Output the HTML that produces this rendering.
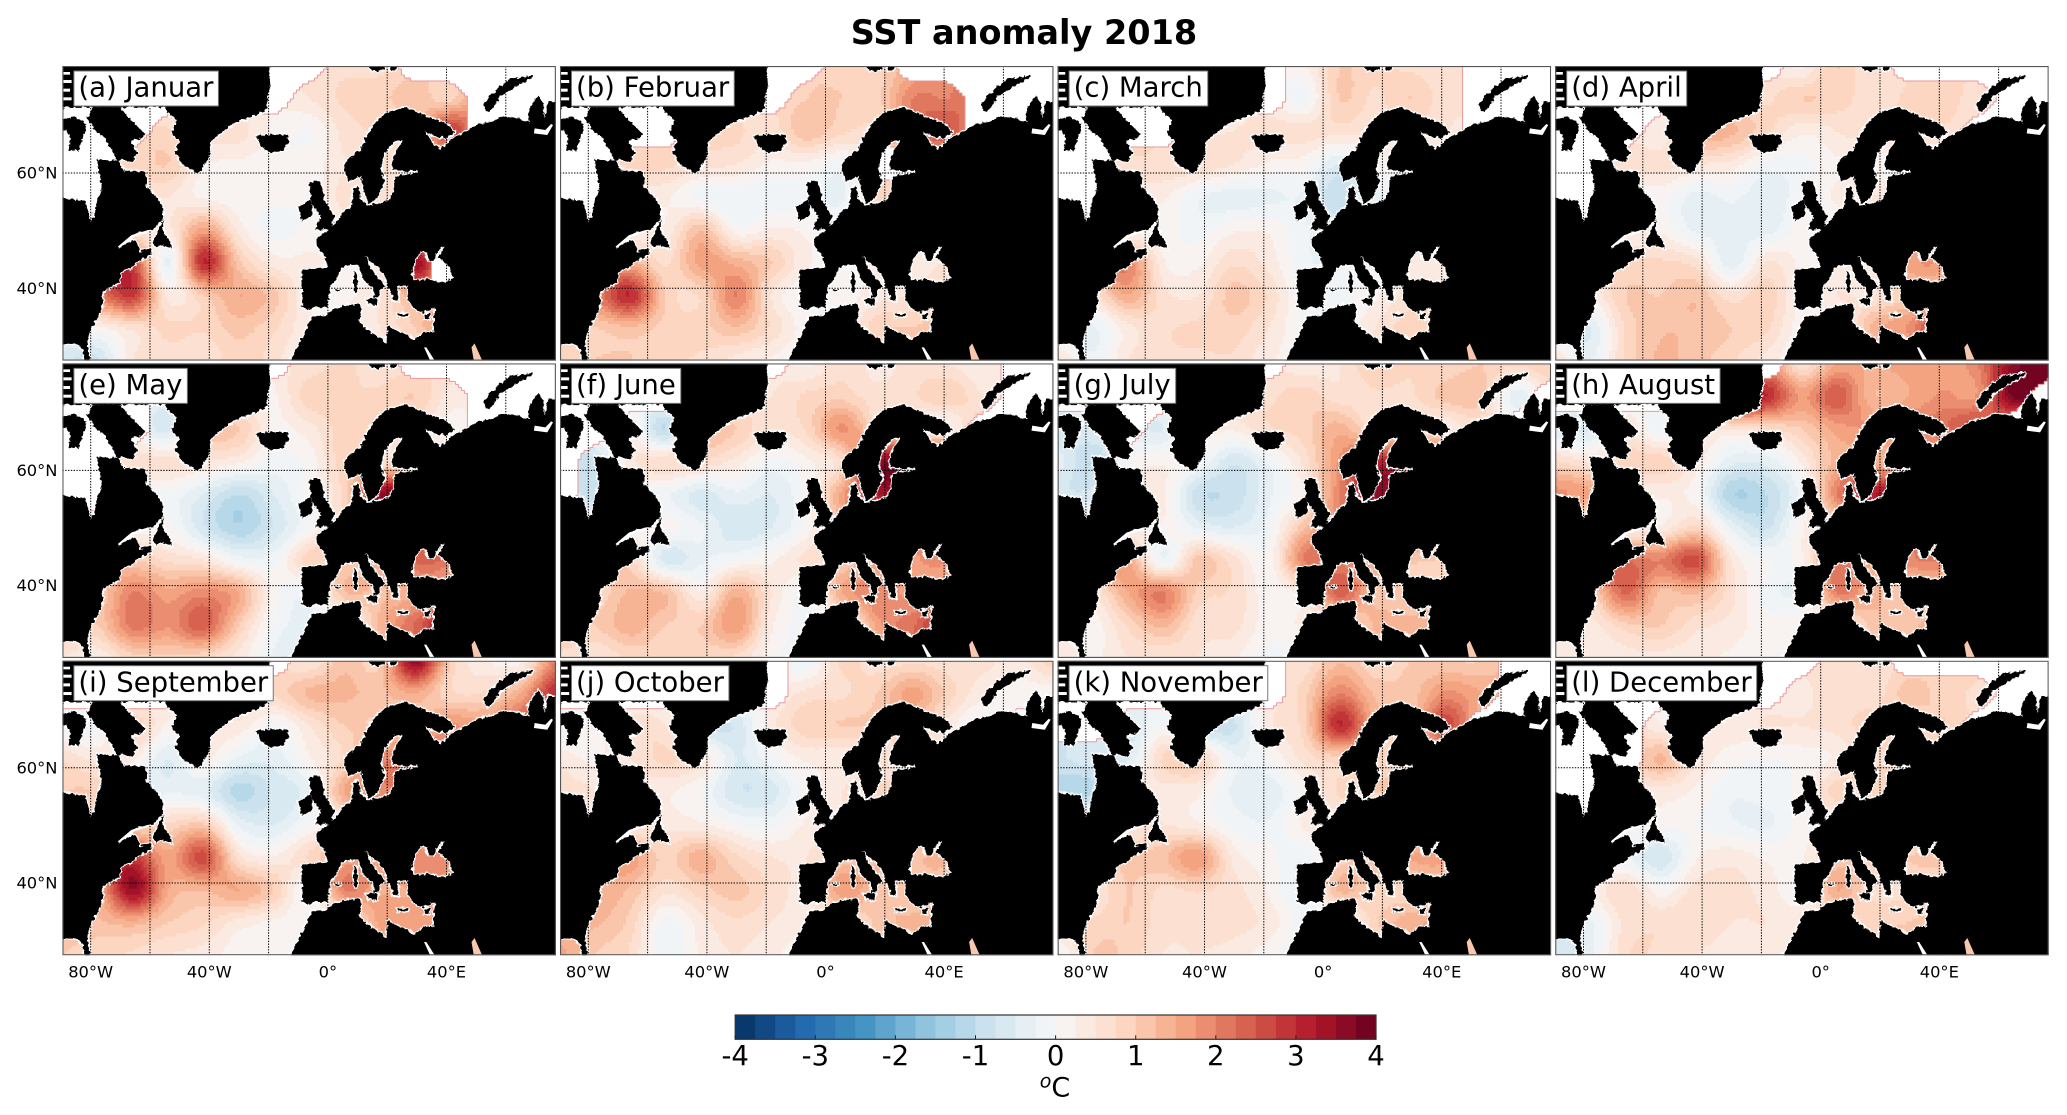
<!DOCTYPE html>
<html lang="en">
<head>
<meta charset="utf-8">
<title>SST anomaly 2018</title>
<style>
html,body{margin:0;padding:0;background:#fff;}
svg{display:block;}
text{font-family:"DejaVu Sans","Liberation Sans",sans-serif;fill:#000;}
</style>
</head>
<body>
<svg id="chart" xmlns="http://www.w3.org/2000/svg" width="2067" height="1115" viewBox="0 0 2067 1115">
<defs>
<filter id="coast-rough" filterUnits="userSpaceOnUse" x="-10" y="-10" width="515" height="315" color-interpolation-filters="sRGB">
<feTurbulence type="fractalNoise" baseFrequency="0.28" numOctaves="2" seed="3" result="noise"/>
<feDisplacementMap in="SourceGraphic" in2="noise" scale="5" xChannelSelector="R" yChannelSelector="G"/>
</filter>
<g id="land-shapes" transform="translate(-62.38,-66) scale(0.3827,0.33333)">
<path vector-effect="non-scaling-stroke" d="M140,590 L205,600 L222,600 L237,667 L249,642 L254,597 L267,562 L258,512 L254,477 L310,482 L323,512 L380,515 L384,562 L410,592 L427,622 L425,657 L412,672 L398,690 L362,696 L330,722 L308,746 L345,720 L360,730 L362,756 L395,745 L395,765 L360,782 L350,800 L315,815 L312,848 L283,865 L265,880 L270,905 L262,935 L240,982 L228,1022 L238,1105 L222,1105 L218,1050 L200,1032 L140,1030 Z"/>
<path vector-effect="non-scaling-stroke" d="M140,175 L702,175 L706,252 L695,332 L650,352 L606,372 L580,397 L550,425 L545,472 L528,507 L515,519 L497,507 L475,492 L458,457 L468,422 L449,402 L462,362 L441,342 L430,322 L140,322 Z"/>
<path vector-effect="non-scaling-stroke" d="M245,322 L314,322 L336,352 L354,372 L380,402 L367,417 L341,422 L358,457 L345,487 L319,477 L306,482 L288,442 L275,417 L249,392 L227,352 Z"/>
<path vector-effect="non-scaling-stroke" d="M150,357 L197,352 L227,372 L219,402 L206,452 L179,452 L184,412 L171,392 L150,385 Z"/>
<path vector-effect="non-scaling-stroke" d="M256,370 L276,368 L278,388 L258,390 Z"/>
<path vector-effect="non-scaling-stroke" d="M425,660 L428,700 L445,725 L448,745 L425,735 L405,740 L400,725 L412,695 Z"/>
<path vector-effect="non-scaling-stroke" d="M670,410 L700,404 L748,404 L756,425 L738,452 L705,460 L684,438 Z"/>
<path vector-effect="non-scaling-stroke" d="M809,545 L838,545 L848,600 L874,650 L862,688 L824,690 L838,645 L814,612 Z"/>
<path vector-effect="non-scaling-stroke" d="M780,622 L812,596 L818,642 L788,664 Z"/>
<path vector-effect="non-scaling-stroke" fill-rule="evenodd" d="M748,1105 L778,1040 L800,990 L815,950 L853,947 L866,932 L901,917 L940,912 L944,927 L937,967 L970,997 L1010,1030 L1014,977 L1036,992 L1058,1002 L1084,1020 L1105,997 L1132,997 L1136,922 L1106,937 L1082,927 L1066,897 L1064,857 L1036,857 L1042,902 L1027,902 L1023,877 L1014,862 L1010,837 L992,807 L970,787 L955,767 L966,802 L988,832 L1007,862 L988,872 L992,882 L979,897 L975,862 L949,837 L936,792 L918,794 L892,802 L882,832 L862,862 L857,922 L822,922 L812,927 L790,922 L788,812 L855,800 L850,770 L827,738 L831,712 L853,692 L879,662 L901,632 L918,622 L923,567 L936,557 L944,597 L962,617 L1018,602 L1030,570 L1030,540 L1042,526 L1090,519 L1090,513 L1026,511 L1026,472 L1040,447 L1053,422 L1030,422 L1003,465 L994,502 L1006,542 L984,597 L962,610 L957,592 L949,562 L944,527 L910,544 L898,502 L905,482 L944,447 L957,407 L992,352 L1014,337 L1058,322 L1092,337 L1119,352 L1162,367 L1188,397 L1171,412 L1145,412 L1110,394 L1132,434 L1153,447 L1179,417 L1197,407 L1223,392 L1249,372 L1280,367 L1310,352 L1336,352 L1362,357 L1384,367 L1380,332 L1406,287 L1419,307 L1423,352 L1432,302 L1475,312 L1475,1105 Z M1099,752 L1114,757 L1117,777 L1132,782 L1149,744 L1162,740 L1145,772 L1175,802 L1184,837 L1153,847 L1114,837 L1084,842 L1075,822 L1084,782 Z"/>
<path vector-effect="non-scaling-stroke" d="M1389,227 L1328,240 L1284,282 L1262,317 L1275,337 L1293,317 L1306,292 L1336,267 L1393,232 Z"/>
<path vector-effect="non-scaling-stroke" d="M960,185 L1010,185 L1000,212 L970,212 Z M1015,185 L1045,185 L1035,210 L1020,212 Z"/>
<path vector-effect="non-scaling-stroke" d="M925,817 L933,817 L933,877 L925,877 Z M876,866 L888,866 L888,874 L876,874 Z M957,897 L988,897 L984,917 L965,912 Z M1040,942 L1066,942 L1066,950 L1040,950 Z M1110,942 L1123,942 L1123,957 L1110,957 Z"/>
</g>
<g id="land-details" transform="translate(-62.38,-66) scale(0.3827,0.33333)">
<rect x="163" y="216" width="20" height="8" fill="#fff"/>
<rect x="163" y="240" width="24" height="9" fill="#fff"/>
<rect x="163" y="266" width="20" height="9" fill="#fff"/>
<rect x="163" y="292" width="24" height="9" fill="#fff"/>
<path d="M310,742 L345,708 L385,694" fill="none" stroke="#fff" stroke-width="6"/>
<path d="M1395,400 L1430,405 L1445,375 L1440,372 L1425,390 L1397,385 Z" fill="#fff"/>
<path d="M1108,1042 L1114,1042 L1136,1082 L1124,1082 Z" fill="#fff"/>
<path d="M1232,1042 L1240,1030 L1260,1082 L1238,1082 Z" fill="#f8c8ae"/>
</g>
</defs>
<text x="1024" y="44" text-anchor="middle" font-size="33.5" font-weight="700">SST anomaly 2018</text>
<g id="panels"></g>
<g id="colorbar"></g>
<text x="1055" y="1096.5" text-anchor="middle" font-size="27"><tspan font-style="italic" font-size="19" dy="-9">o</tspan><tspan dy="9">C</tspan></text>
</svg>
<script>
const n = null;
const panelTitles = ["(a) Januar","(b) Februar","(c) March","(d) April","(e) May","(f) June","(g) July","(h) August","(i) September","(j) October","(k) November","(l) December"];
const lonTicks = [-80,-40,0,40];
const lonTickLabels = ["80°W","40°W","0°","40°E"];
const latTicks = [60,40];
const latTickLabels = ["60°N","40°N"];
const gridLons = [-80,-60,-40,-20,0,20,40,60];
const gridLats = [60,40];
const colorbarTicks = [-4,-3,-2,-1,0,1,2,3,4];
const colorbarLevelCount = 32;
const rdBuStops = ["#053061","#2166ac","#4393c3","#92c5de","#d1e5f0","#f7f7f7","#fddbc7","#f4a582","#d6604d","#b2182b","#67001f"];

const januaryValues = [
[0,0,0,0,0,0,n,n,.7,.7,n,n,n,n,n],
[n,n,n,n,n,n,n,.5,.8,.9,1.2,.9,n,n,n],
[n,n,n,.8,.6,.6,.2,0,.6,.8,.8,2.8,n,n,n],
[n,n,.8,1,.3,.2,.1,.1,.5,.7,.7,.7,0,0,0],
[n,n,.5,.5,.2,.1,.05,.1,.6,.7,.7,.7,0,0,0],
[.5,.5,.5,.4,1.6,.4,-.1,.1,.3,.5,.5,.5,0,0,0],
[2.6,2.6,2.6,-.3,3,1.1,.4,.3,.2,.4,3.4,n,0,0,0],
[2,2,2.8,.4,1,1.5,1.1,.2,.2,.5,1.5,n,0,0,0],
[.2,.2,.6,.8,.8,1.1,.8,.3,.3,.5,1,1.8,0,0,0],
[-.7,-.8,.5,.6,.5,.9,.6,.1,.1,.3,.5,.5,.5,0,0]];
const februaryValues = [
[0,0,0,0,0,0,n,n,.9,.9,n,n,n,n,n],
[n,n,n,n,n,n,n,1,1,.9,2,2,n,n,n],
[n,n,n,n,.8,.8,.6,1.2,.8,.8,2,2.5,n,n,n],
[n,n,.8,.8,.6,.5,.2,.2,-.1,n,n,n,0,0,0],
[n,n,.3,.3,-.1,-.2,-.2,-.1,-.3,.8,.8,.8,0,0,0],
[.3,.3,.3,.3,1.2,.1,.3,.2,.1,.4,.4,.4,0,0,0],
[1.4,1.4,1.4,.7,1.6,1.4,1,.3,.1,.3,.3,.5,0,0,0],
[2,2,3,1,.8,2,.5,0,.1,.4,.5,.8,0,0,0],
[1,1,1.2,.9,.9,1.2,.7,.1,.1,.9,1,1,0,0,0],
[.9,1,1,.8,.7,.4,.2,0,0,.5,.9,.9,.9,0,0]];
const marchValues = [
[0,0,0,0,0,0,n,.2,1,.8,.7,.6,n,n,n],
[n,n,n,n,n,n,n,-.1,1,.7,1,.6,n,n,n],
[n,n,n,n,.5,.5,.6,.6,.6,.5,.6,.5,n,n,n],
[n,n,.7,.7,.7,.5,.2,.1,-.5,.1,.1,.1,0,0,0],
[n,n,.3,.3,-.2,-.4,-.3,-.3,-1,-.3,-.3,-.3,0,0,0],
[.1,.1,.1,.1,-.1,.2,.2,-.2,-.5,-.3,.2,.2,0,0,0],
[1.9,1.9,1.9,.3,.2,.7,.4,-.2,-.2,.1,.3,.3,0,0,0],
[.6,.6,1.5,.6,.5,1.1,.7,-.1,-.1,.2,.6,.6,0,0,0],
[-.3,-.3,.4,.7,.8,.9,.5,0,0,.5,.9,.9,0,0,0],
[.6,-.2,.5,.7,.7,.7,.3,.1,.1,.5,.7,.7,.7,0,0]];
const aprilValues = [
[0,0,0,0,0,0,n,.2,1,.5,n,n,n,n,n],
[n,n,n,n,n,n,.7,1,.9,.6,.8,.9,.6,n,n],
[n,n,n,.3,1.3,1.3,.8,.3,.5,.7,.8,.7,n,n,n],
[n,n,.6,.6,.5,.4,-.1,-.1,.2,.1,.1,.1,0,0,0],
[n,n,.1,.1,-.35,-.2,-.4,-.1,.3,.5,.5,.5,0,0,0],
[.2,.2,.2,.2,-.3,-.3,-.35,.1,.1,.3,.8,.8,0,0,0],
[.8,.8,.8,.8,.6,-.4,.5,.2,.2,.5,1.6,1.6,0,0,0],
[.3,.3,1,1,1.2,.6,.9,.2,.5,.5,1,1,0,0,0],
[-.5,-.5,.8,1.2,1.2,1,.8,.1,.1,1.3,1.8,2.6,0,0,0],
[.6,-.3,.8,1.3,1.1,.8,.4,0,0,.5,1,1.6,.8,0,0]];
const mayValues = [
[0,0,0,0,0,0,n,.6,.8,.6,n,n,n,n,n],
[n,n,n,-.3,n,.2,.2,.9,.8,.8,1,.4,n,n,n],
[n,n,n,-.6,1,1,.2,.4,.9,.8,.7,.2,n,n,n],
[n,n,.6,.6,.5,.3,-.1,.1,.9,.6,.9,.9,0,0,0],
[n,n,-.1,-.1,-.5,-1,-.5,.1,.9,3.5,3.5,3.5,0,0,0],
[.1,.1,.1,.1,-.7,-1.2,-.7,0,.9,2.5,2.5,2.5,0,0,0],
[1,1,1,.7,.5,-.1,-.1,.9,1,1.5,2.3,2,0,0,0],
[1,1,2,1.6,1.9,1.5,.1,-.1,1.2,1.2,1.5,1.5,0,0,0],
[1,1,2.1,1.8,2.4,1,-.1,-.3,-.3,1.3,2.3,3,0,0,0],
[.5,.3,.9,.9,.8,.4,-.3,-.4,-.4,1,2,2,1,0,0]];
const juneValues = [
[0,0,0,0,0,0,n,.2,.7,.4,.6,.5,.3,n,n],
[n,n,n,n,n,.5,.5,.8,.9,.6,.7,1,.5,n,n],
[n,n,.3,-1,1,1,.5,.8,1.8,.9,.5,.3,n,n,n],
[n,-.8,.4,.7,.7,.4,-.1,.2,.8,3.5,3.5,3.5,0,0,0],
[n,-.9,-.2,-.2,-.6,-.3,-.5,.1,1.6,3.2,3.5,3.5,0,0,0],
[.1,.1,.1,.1,-.2,-.7,-.5,.1,1.2,2,2,2,0,0,0],
[.8,.8,.8,-.6,-.3,0,.2,.6,1,1.5,1.7,1.7,0,0,0],
[.8,.8,1.3,1.2,.3,1.4,.5,0,1.5,2,1.6,1.6,0,0,0],
[1,1,1.4,1,1,1.7,.3,-.1,-.1,1.6,2.2,2.8,0,0,0],
[.7,.5,.8,.8,.8,.7,.1,-.2,-.2,1,2,2,1,0,0]];
const julyValues = [
[0,0,0,0,0,0,n,.3,.5,1,.8,.8,1,.8,1],
[n,n,n,n,n,.7,.7,.9,.6,.7,.7,1.1,1.1,-.4,n],
[-.7,-.5,n,-.5,.3,.3,.7,.9,1.4,.7,.7,.5,.5,n,n],
[-.4,-1,0,.2,0,-.7,-.2,.6,1.8,3,3,3,0,0,0],
[-.7,-.6,.3,.3,-.9,-.9,-.3,.3,2,3.5,3.5,3.5,0,0,0],
[.2,.2,.2,.2,-.3,-.5,-.1,1.2,2,2.5,2.5,2.5,0,0,0],
[1.5,1.5,1.5,-.2,1.1,.6,.1,2,2,1.5,1.1,.9,0,0,0],
[.5,.5,1.5,2,.9,.7,.1,.5,2.4,1.2,1,1,0,0,0],
[.1,.1,.8,1.3,.6,.6,.1,.3,.3,1.3,1.3,1.3,0,0,0],
[.5,.2,.5,.5,.5,.3,-.1,0,0,.8,1,1,.8,0,0]];
const augustValues = [
[0,0,0,0,0,0,n,.6,1.5,1.5,1.6,1.6,2,3.6,3.8],
[n,n,n,n,n,3,3,1.7,2.5,1.3,1.5,1.8,1.8,3.8,n],
[-.5,-.5,.5,-.2,.5,.5,.7,1,1.6,1.8,1.9,2.2,2.5,n,n],
[.8,.5,.8,.9,.4,-.4,-.4,.3,1.4,1.4,1.4,1.4,0,0,0],
[1.8,1.5,.3,.3,.1,-1.2,-1,-.1,2,3.2,3.2,3.2,0,0,0],
[.3,.3,.3,.3,.8,-.3,-.8,.2,.8,2,2,2,0,0,0],
[2.2,2.2,2.2,2,2.6,.5,0,.2,2,1.5,1.9,1.9,0,0,0],
[.9,.9,2.3,1.2,1.3,.6,-.1,-.1,2,1.4,1,1,0,0,0],
[.4,.4,.9,1,.6,.4,.1,.1,.1,1.1,1.2,1.2,0,0,0],
[.4,.3,.4,.4,.3,.2,0,0,0,.8,1,1,.8,0,0]];
const septemberValues = [
[0,0,0,0,0,0,n,.5,1.2,1,3.6,1,.3,.2,2],
[n,n,n,n,n,.8,.8,1.3,1.3,1.2,1.5,.8,.8,1.5,3],
[-.1,0,.9,.2,.4,.4,-.1,.5,1,1,1.2,1.8,1.5,2.2,2.2],
[.7,.4,.3,-.5,.3,-.3,-.4,.2,.8,1.9,1.9,1.9,0,0,0],
[1,.9,-.3,-.3,-.4,-1.1,-.7,-.3,1.5,1.9,1.9,1.9,0,0,0],
[.8,.8,.8,.8,1,-.3,-.5,0,.5,1,1,1,0,0,0],
[2.8,2.8,2.8,1.6,2.6,.6,.3,.8,1.5,1.5,1.9,1.7,0,0,0],
[1.5,1.5,3.5,1.5,1.3,1.5,1,0,2,1.5,1.5,1.5,0,0,0],
[1.2,1.2,1.4,1,.8,.4,.2,.1,.1,1.6,1.6,1.6,0,0,0],
[1,.8,.7,.5,.4,.1,.1,0,0,1,1.3,1.3,1.3,0,0]];
const octoberValues = [
[0,0,0,0,0,0,n,-.2,.8,.6,.7,.6,.6,.4,.9],
[n,n,n,n,n,n,n,.6,.7,1,1.6,.9,.3,.1,.1],
[-.2,.1,.6,.5,-.7,-.7,.4,.9,1,1,1.1,.4,-.1,n,n],
[.4,.2,.5,.8,.5,-.5,-.1,.3,.3,.5,.5,.5,0,0,0],
[.6,.5,.3,.3,0,-.7,-.6,.1,.5,.8,.8,.8,0,0,0],
[.4,.4,.4,.4,.3,0,-.1,.3,.5,.5,.5,.5,0,0,0],
[1.6,1.6,1.6,.9,1.4,.8,.5,.5,1,1.2,1.2,1.2,0,0,0],
[1.5,1.5,1.2,.6,.9,1.1,.7,.5,1.7,1.2,1,1,0,0,0],
[1.3,1.3,.9,-.1,.4,.7,.5,.3,.3,1.1,1.3,1.3,0,0,0],
[1.6,1,.7,-.2,.3,.5,.3,.1,.1,.8,1,1,1,0,0]];
const novemberValues = [
[0,0,0,0,0,0,n,.6,1.2,.8,1,1,1,n,n],
[n,n,n,n,n,n,n,.9,2,1.2,1.1,1.8,1.5,n,n],
[n,n,-.6,0,-.8,-.8,.4,.9,3,1.4,1,2.6,n,n,n],
[-.8,-.6,-.5,.8,.9,-.2,0,.6,.9,.9,.9,.9,0,0,0],
[-1,-1,.4,.4,.3,-.3,-.4,.1,.8,1,1,1,0,0,0],
[.5,.5,.5,.5,.3,-.1,-.2,.3,.4,.5,.5,.5,0,0,0],
[1,1,1,1.2,1.7,.4,.1,-.2,.8,1.2,1.5,1.5,0,0,0],
[.5,.5,1,.7,.8,.6,.2,-.2,1.3,.9,.8,.8,0,0,0],
[.8,.8,1,.6,.6,.6,.4,-.2,-.2,.9,1.4,1.4,0,0,0],
[-.2,1,.9,.5,.5,.4,.1,-.2,-.2,.7,1,1,.7,0,0]];
const decemberValues = [
[0,0,0,0,0,0,n,n,.7,.5,n,n,n,n,n],
[n,n,n,n,n,n,n,.4,.7,.6,1.1,.9,.7,n,n],
[n,n,n,.3,.4,.4,.5,.5,.6,.9,.7,1,n,n,n],
[n,n,n,1.3,.5,.1,0,.1,.3,.7,.7,.7,0,0,0],
[n,n,.4,.4,.2,-.2,-.1,.1,.9,.9,.9,.9,0,0,0],
[.1,.1,.1,.1,0,-.2,-.3,.1,.3,.5,.5,.5,0,0,0],
[-.2,-.2,-.2,-.7,.2,.4,.2,.2,1,.9,1,1,0,0,0],
[.3,.3,.7,.1,.6,.6,.4,.1,1.5,.7,.7,.7,0,0,0],
[-.3,-.3,.6,.7,.7,.5,.5,.4,.4,.9,1,1,0,0,0],
[-.7,-.3,.7,.7,.5,.4,.4,.4,.4,.7,1,1,.7,0,0]];
const monthGrids = [januaryValues,februaryValues,marchValues,aprilValues,mayValues,juneValues,julyValues,augustValues,septemberValues,octoberValues,novemberValues,decemberValues];

const SVGNS = "http://www.w3.org/2000/svg";
const panelW = 493.5, panelH = 294.6, panelLeft0 = 62.4, panelTop0 = 66, panelStepX = 497.6, panelStepY = 297.35;
const blockSize = 3;
const colorMin = -4, colorMax = 4;

function mk(tag, parent, attrs) {
  const el = document.createElementNS(SVGNS, tag);
  for (const k in attrs) el.setAttribute(k, attrs[k]);
  parent.appendChild(el);
  return el;
}
function hexToRgb(h) { return [parseInt(h.slice(1,3),16),parseInt(h.slice(3,5),16),parseInt(h.slice(5,7),16)]; }
function colorAtFraction(t) {
  const p = Math.max(0,Math.min(1,t))*(rdBuStops.length-1);
  const i = Math.min(rdBuStops.length-2,Math.floor(p));
  const a = hexToRgb(rdBuStops[i]), b = hexToRgb(rdBuStops[i+1]), f = p-i;
  return "rgb("+a.map((v,q)=>Math.round(v+(b[q]-v)*f)).join(",")+")";
}
function bandOf(v) {
  const w = (colorMax-colorMin)/colorbarLevelCount;
  return Math.max(0,Math.min(colorbarLevelCount-1,Math.floor((v-colorMin)/w)));
}
function bandColor(b) { return colorAtFraction((b+.5)/colorbarLevelCount); }
function lonToX(lon) { return 28.3+(lon+80)*59.3/20; }
function mercator(lat) { return Math.log(Math.tan(Math.PI/4+lat*Math.PI/360)); }
function latToY(lat) { return 107+(mercator(60)-mercator(lat))*208.1; }
function fillMissing(grid) {
  let cur = grid.map(r => r.slice());
  for (let pass = 0; pass < 6; pass++) {
    const next = cur.map(r => r.slice());
    for (let j = 0; j < cur.length; j++) for (let i = 0; i < cur[0].length; i++) {
      if (cur[j][i] !== null) continue;
      let s = 0, c = 0;
      for (let dj = -1; dj <= 1; dj++) for (let di = -1; di <= 1; di++) {
        const row = cur[j+dj];
        if (row && row[i+di] !== undefined && row[i+di] !== null) { s += row[i+di]; c++; }
      }
      if (c) next[j][i] = s/c;
    }
    cur = next;
  }
  return cur.map(r => r.map(v => v === null ? 0 : v));
}
function isOpen(grid, px, py) {
  const rows = grid.length, cols = grid[0].length;
  const fx = px/panelW*(cols-1), fy = py/panelH*(rows-1);
  const i = Math.min(cols-2,Math.floor(fx)), j = Math.min(rows-2,Math.floor(fy));
  const u = fx-i, w = fy-j;
  let wt = 0;
  if (grid[j][i] !== null) wt += (1-u)*(1-w);
  if (grid[j][i+1] !== null) wt += u*(1-w);
  if (grid[j+1][i] !== null) wt += (1-u)*w;
  if (grid[j+1][i+1] !== null) wt += u*w;
  return wt >= .5;
}
function cubic(a,b,c,d,t) {
  return b+.5*t*(c-a+t*(2*a-5*b+4*c-d+t*(3*(b-c)+d-a)));
}
function sampleFilled(g, px, py) {
  const rows = g.length, cols = g[0].length;
  const fx = px/panelW*(cols-1), fy = py/panelH*(rows-1);
  const i = Math.min(cols-2,Math.floor(fx)), j = Math.min(rows-2,Math.floor(fy));
  const u = fx-i, w = fy-j;
  const at = (jj,ii) => g[Math.max(0,Math.min(rows-1,jj))][Math.max(0,Math.min(cols-1,ii))];
  const r = [];
  for (let k = -1; k <= 2; k++) r.push(cubic(at(j+k,i-1),at(j+k,i),at(j+k,i+1),at(j+k,i+2),u));
  return cubic(r[0],r[1],r[2],r[3],w);
}

const panelsRoot = document.getElementById("panels");
monthGrids.forEach(function(grid, index) {
  const col = index%4, row = Math.floor(index/4);
  const left = panelLeft0+col*panelStepX, top = panelTop0+row*panelStepY;
  const filled = fillMissing(grid);
  const panel = mk("svg", panelsRoot, {x:left,y:top,width:panelW,height:panelH,viewBox:"0 0 "+panelW+" "+panelH});
  
  
  const sea = mk("rect", panel, {x:0,y:0,width:panelW,height:panelH,fill:"#fff"});
  
  
  const heat = mk("g", panel, {"shape-rendering":"crispEdges"});
  
  
  const nx = Math.ceil(panelW/blockSize), ny = Math.ceil(panelH/blockSize);
  let edges = "";
  let prevRow = null;
  for (let y = 0; y < ny; y++) {
    const vals = [];
    for (let x = 0; x < nx; x++) {
      const px = (x+.5)*blockSize, py = (y+.5)*blockSize;
      vals.push(isOpen(grid, px, py) ? bandOf(sampleFilled(filled, px, py)) : -1);
    }
    let start = 0;
    for (let x = 1; x <= nx; x++) {
      if (x === nx || vals[x] !== vals[start]) {
        if (vals[start] >= 0) {
          const cell = mk("rect", heat, {x:start*blockSize,y:y*blockSize,width:(x-start)*blockSize,height:blockSize,fill:bandColor(vals[start])});
          
          
        }
        start = x;
      }
    }
    for (let x = 0; x < nx; x++) {
      if (x > 0 && (vals[x] < 0) !== (vals[x-1] < 0)) edges += "M"+x*blockSize+","+y*blockSize+"v"+blockSize;
      if (prevRow && (vals[x] < 0) !== (prevRow[x] < 0)) edges += "M"+x*blockSize+","+y*blockSize+"h"+blockSize;
    }
    prevRow = vals;
  }
  const edge = mk("path", panel, {d:edges,fill:"none",stroke:"#e59a9a","stroke-width":1});
  
  
  const coastGroup = mk("g", panel, {filter:"url(#coast-rough)"});
  
  
  const halo = mk("use", coastGroup, {href:"#land-shapes",fill:"none",stroke:"#fff","stroke-width":3,"stroke-linejoin":"round"});
  
  
  const land = mk("use", coastGroup, {href:"#land-shapes",fill:"#000"});
  
  
  const details = mk("use", panel, {href:"#land-details"});
  
  
  gridLons.forEach(function(lon) {
    const line = mk("line", panel, {x1:lonToX(lon),x2:lonToX(lon),y1:0,y2:panelH,stroke:"#000","stroke-width":1,"stroke-dasharray":"1.4 1.4"});
    
    
  });
  gridLats.forEach(function(lat) {
    const line = mk("line", panel, {x1:0,x2:panelW,y1:latToY(lat),y2:latToY(lat),stroke:"#000","stroke-width":1,"stroke-dasharray":"1.4 1.4"});
    
    
  });
  const labelBox = mk("rect", panel, {x:11.5,y:5,width:144,height:35,fill:"#fff",stroke:"#777","stroke-width":1});
  
  
  const label = mk("text", panel, {x:16,y:30.7,"font-size":27.5});
  
  
  label.textContent = panelTitles[index];
  labelBox.setAttribute("width", label.getComputedTextLength()+9.5);
  const frame = mk("rect", panel, {x:.5,y:.5,width:panelW-1,height:panelH-1,fill:"none",stroke:"#555","stroke-width":1.2});
  
  
  if (col === 0) {
    latTicks.forEach(function(lat, q) {
      const t = mk("text", panelsRoot, {x:57.5,y:top+latToY(lat)+5.6,"text-anchor":"end","font-size":16.3});
      
      
      t.textContent = latTickLabels[q];
    });
  }
  if (row === 2) {
    lonTicks.forEach(function(lon, q) {
      const t = mk("text", panelsRoot, {x:left+lonToX(lon),y:977.5,"text-anchor":"middle","font-size":16.3});
      
      
      t.textContent = lonTickLabels[q];
    });
  }
});

const cbRoot = document.getElementById("colorbar");
const cbLeft = 735.2, cbRight = 1376, cbTop = 1015, cbBottom = 1039.3;
function cbX(v) { return cbLeft+(v-colorMin)/(colorMax-colorMin)*(cbRight-cbLeft); }
for (let b = 0; b < colorbarLevelCount; b++) {
  const lo = colorMin+b*(colorMax-colorMin)/colorbarLevelCount, hi = colorMin+(b+1)*(colorMax-colorMin)/colorbarLevelCount;
  const band = mk("rect", cbRoot, {x:cbX(lo),y:cbTop,width:cbX(hi)-cbX(lo)+.4,height:cbBottom-cbTop,fill:bandColor(b)});
  
  
}
const cbFrame = mk("rect", cbRoot, {x:cbLeft,y:cbTop,width:cbRight-cbLeft,height:cbBottom-cbTop,fill:"none",stroke:"#333","stroke-width":1.2});


colorbarTicks.forEach(function(v) {
  const tick = mk("line", cbRoot, {x1:cbX(v),x2:cbX(v),y1:cbBottom-4,y2:cbBottom,stroke:"#222","stroke-width":1});
  
  
  const t = mk("text", cbRoot, {x:cbX(v),y:1065,"text-anchor":"middle","font-size":27.5});
  
  
  t.textContent = String(v);
});
</script>
</body>
</html>
